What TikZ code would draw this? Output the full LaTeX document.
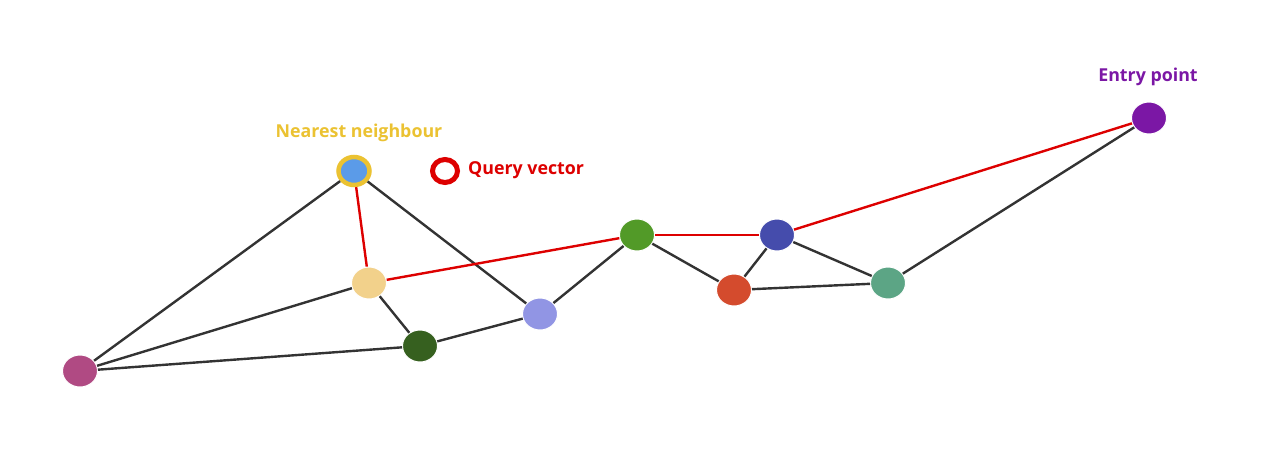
\documentclass[tikz,border=0pt]{standalone}
\usepackage{fontspec}
\setmainfont{Open Sans}
\usetikzlibrary{shapes.geometric}
\definecolor{edgegray}{HTML}{333333}
\definecolor{pathred}{HTML}{DD0000}
\definecolor{nnyellow}{HTML}{EBC232}
\definecolor{nnblue}{HTML}{5B9BE8}
\definecolor{entrypurple}{HTML}{7B17A5}
\definecolor{cgreen}{HTML}{529A28}
\definecolor{cblue}{HTML}{454CAC}
\definecolor{cred}{HTML}{D44B2D}
\definecolor{cteal}{HTML}{5CA585}
\definecolor{clavender}{HTML}{9195E4}
\definecolor{cdarkgreen}{HTML}{36601F}
\definecolor{cpeach}{HTML}{F2D18B}
\definecolor{cmagenta}{HTML}{B04A83}
\begin{document}
\begin{tikzpicture}[x=1pt,y=-1pt,
  vertex/.style={ellipse,draw=white,line width=1pt,minimum width=35pt,minimum height=32pt,inner sep=0pt},
  link/.style={edgegray,line width=2.4pt},
  route/.style={pathred,line width=2.4pt},
  tag/.style={font=\bfseries\fontsize{17.8}{20}\selectfont,inner sep=0pt}]
\useasboundingbox (0,0) rectangle (1263,450);
% vertices
\node [vertex,draw=nnyellow,line width=4.5pt,fill=nnblue,minimum width=31pt,minimum height=28pt] (nn) at (354,171) {};
\node [vertex,fill=entrypurple] (entry) at (1149,118) {};
\node [vertex,fill=cgreen] (g1) at (637,235) {};
\node [vertex,fill=cblue] (b1) at (777,235) {};
\node [vertex,fill=cred] (r1) at (734,290) {};
\node [vertex,fill=cteal] (t1) at (888,283) {};
\node [vertex,fill=clavender] (l1) at (540,314) {};
\node [vertex,fill=cdarkgreen] (d1) at (420,346) {};
\node [vertex,fill=cpeach] (p1) at (369,283) {};
\node [vertex,fill=cmagenta] (m1) at (80,371) {};
\node [ellipse,draw=pathred,line width=5pt,minimum width=25pt,minimum height=23pt,inner sep=0pt] (query) at (445,171) {};
% labels
\node [tag,text=nnyellow] (nnlabel) at (359,133) {Nearest neighbour};
\node [tag,text=pathred,anchor=west] (qlabel) at (468,170) {Query vector};
\node [tag,text=entrypurple] (entrylabel) at (1148,77) {Entry point};
% graph edges
\draw [link] (m1) -- (nn);
\draw [link] (m1) -- (p1);
\draw [link] (m1) -- (d1);
\draw [link] (nn) -- (l1);
\draw [link] (p1) -- (d1);
\draw [link] (d1) -- (l1);
\draw [link] (l1) -- (g1);
\draw [link] (g1) -- (r1);
\draw [link] (r1) -- (b1);
\draw [link] (r1) -- (t1);
\draw [link] (b1) -- (t1);
\draw [link] (t1) -- (entry);
% search path
\draw [route] (entry) -- (b1);
\draw [route] (b1) -- (g1);
\draw [route] (g1) -- (p1);
\draw [route] (p1) -- (nn);
\end{tikzpicture}
\end{document}
